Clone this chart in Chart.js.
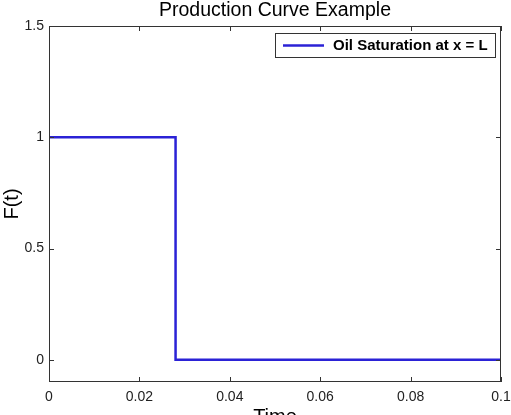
<!DOCTYPE html>
<html>
<head>
<meta charset="utf-8">
<script src="https://cdn.jsdelivr.net/npm/chart.js@4"></script>
<style>
  html, body { margin: 0; padding: 0; background: #fff; overflow: hidden; }
  #wrap { position: relative; width: 511px; height: 415px; }
</style>
</head>
<body>
<div id="wrap"><canvas id="prodChart"></canvas></div>
<script>
// data
const times = [0, 0.028, 0.028, 0.1];
const saturation = [1, 1, 0, 0];
const xTicks = [0, 0.02, 0.04, 0.06, 0.08, 0.1];
const yTicks = [0, 0.5, 1, 1.5];
const seriesLabel = 'Oil Saturation at x = L';

const FONT = '"Liberation Sans", Arial, sans-serif';
const lineColor = '#2b22d6';

// box, inward ticks, titles and legend like the matlab figure
const matlabLook = {
    id: 'matlabLook',
    afterDraw(chart) {
        const ctx = chart.ctx;
        const a = chart.chartArea;
        const xs = chart.scales.x, ys = chart.scales.y;
        ctx.save();
        ctx.strokeStyle = '#333';
        ctx.lineWidth = 1;
        ctx.strokeRect(a.left + 0.5, a.top + 0.5, a.right - a.left - 1, a.bottom - a.top - 1);
        ctx.beginPath();
        xTicks.forEach(v => {
            const px = Math.round(xs.getPixelForValue(v)) + 0.5;
            ctx.moveTo(px, a.bottom); ctx.lineTo(px, a.bottom - 5);
            ctx.moveTo(px, a.top); ctx.lineTo(px, a.top + 5);
        });
        yTicks.forEach(v => {
            const py = Math.round(ys.getPixelForValue(v)) + 0.5;
            ctx.moveTo(a.left, py); ctx.lineTo(a.left + 5, py);
            ctx.moveTo(a.right, py); ctx.lineTo(a.right - 5, py);
        });
        ctx.stroke();

        // titles
        ctx.fillStyle = '#000';
        ctx.textAlign = 'center';
        ctx.textBaseline = 'alphabetic';
        ctx.font = '19.5px ' + FONT;
        const cx = (a.left + a.right) / 2;
        ctx.fillText('Production Curve Example', cx, 15.5);
        ctx.font = '20px ' + FONT;
        ctx.fillText('Time', cx, 422.5);
        ctx.save();
        ctx.translate(18, (a.top + a.bottom) / 2);
        ctx.rotate(-Math.PI / 2);
        ctx.fillText('F(t)', 0, 0);
        ctx.restore();

        // legend
        ctx.fillStyle = '#fff';
        ctx.fillRect(275.5, 33.5, 220, 24);
        ctx.strokeStyle = '#333';
        ctx.lineWidth = 1;
        ctx.strokeRect(275.5, 33.5, 220, 24);
        ctx.strokeStyle = lineColor;
        ctx.lineWidth = 2.5;
        ctx.beginPath();
        ctx.moveTo(283, 45.5); ctx.lineTo(324, 45.5);
        ctx.stroke();
        ctx.fillStyle = '#000';
        ctx.textAlign = 'left';
        ctx.textBaseline = 'middle';
        ctx.font = 'bold 15px ' + FONT;
        ctx.fillText(chart.data.datasets[0].label, 333, 46);
        ctx.restore();
    }
};

new Chart(document.getElementById('prodChart'), {
    type: 'line',
    data: {
        datasets: [{
            label: seriesLabel,
            data: times.map((t, i) => ({ x: t, y: saturation[i] })),
            borderColor: lineColor,
            borderWidth: 2.5,
            pointRadius: 0,
            tension: 0,
            fill: false
        }]
    },
    options: {
        responsive: true,
        maintainAspectRatio: false,
        animation: false,
        layout: { autoPadding: false, padding: { top: 26, right: 10, bottom: 0, left: 0 } },
        plugins: { legend: { display: false }, tooltip: { enabled: false } },
        scales: {
            x: {
                type: 'linear',
                min: 0,
                max: 0.1,
                afterBuildTicks: s => { s.ticks = xTicks.map(v => ({ value: v })); },
                afterFit: s => { s.height = 33; s.paddingLeft = 0; s.paddingRight = 0; },
                grid: { display: false, drawTicks: false },
                border: { display: false },
                ticks: {
                    padding: 7,
                    color: '#222',
                    maxRotation: 0,
                    font: { family: FONT, size: 14 },
                    callback: v => String(+v.toFixed(2))
                }
            },
            y: {
                min: -0.1,
                max: 1.5,
                afterBuildTicks: s => { s.ticks = yTicks.map(v => ({ value: v })); },
                afterFit: s => { s.width = 49; s.paddingTop = 0; s.paddingBottom = 0; },
                grid: { display: false, drawTicks: false },
                border: { display: false },
                ticks: {
                    padding: 5,
                    color: '#222',
                    font: { family: FONT, size: 14 },
                    callback: v => String(v)
                }
            }
        }
    },
    plugins: [matlabLook]
});
</script>
</body>
</html>
